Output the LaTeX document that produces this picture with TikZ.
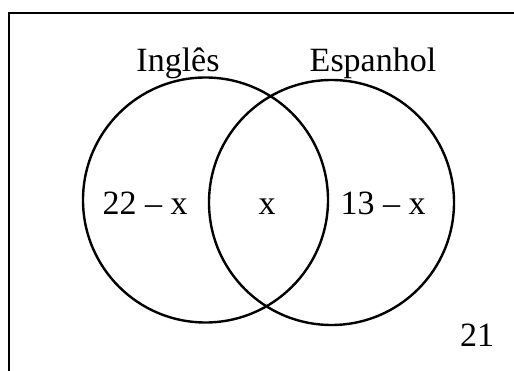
\documentclass[tikz,border=0pt]{standalone}
\usepackage{fontspec}
\setmainfont{Liberation Serif}
\usetikzlibrary{positioning}
\tikzset{
  conjunto/.style={circle, draw, line width=2.4pt, minimum size=245pt, inner sep=0pt},
  rotulo/.style={font=\fontsize{34}{38}\selectfont, inner sep=0pt, anchor=base}
}

\begin{document}
\begin{tikzpicture}[x=1pt, y=-1pt]
  \useasboundingbox (0,0) rectangle (514,371);
  % moldura (universo)
  \draw[line width=2.4pt] (9,371) -- (9,13) -- (514,13);
  % conjuntos
  \node[conjunto] (ingles) at (205.5,200) {};
  \node[conjunto] (espanhol) at (331.5,202.5) {};
  \node[rotulo] (tingles) at (178,72) {Inglês};
  \node[rotulo] (tespanhol) at (373,72) {Espanhol};
  % regioes
  \node[rotulo] (soingles) at (145,215) {22 – x};
  \node[rotulo] (ambos) at (267,215) {x};
  \node[rotulo] (soespanhol) at (383,215) {13 – x};
  \node[rotulo] (nenhum) at (477,346) {21};
\end{tikzpicture}
\end{document}
